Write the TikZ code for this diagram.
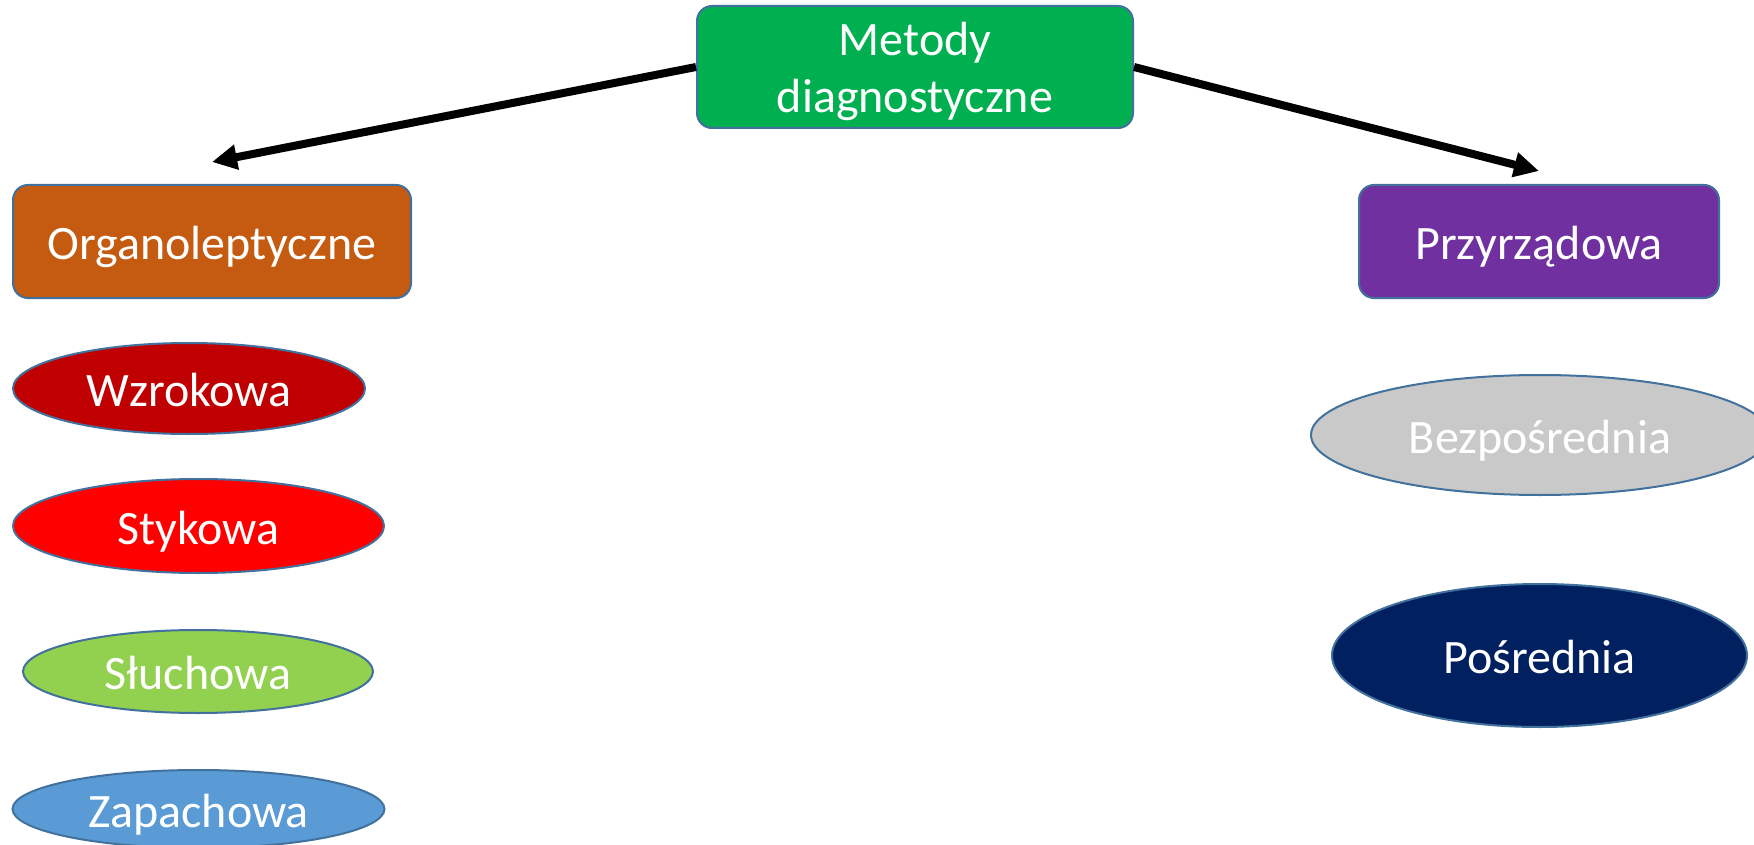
\documentclass[tikz,border=0pt]{standalone}
\usepackage{fontspec}
\setmainfont{Carlito}
\usetikzlibrary{shapes.geometric,arrows.meta}
\definecolor{cgreen}{HTML}{00B050}
\definecolor{corange}{HTML}{C55A11}
\definecolor{cpurple}{HTML}{7030A0}
\definecolor{cdarkred}{HTML}{C00000}
\definecolor{cred}{HTML}{FF0000}
\definecolor{clgreen}{HTML}{92D050}
\definecolor{cblue}{HTML}{5B9BD5}
\definecolor{cgrey}{HTML}{C9C9C9}
\definecolor{cnavy}{HTML}{002060}
\definecolor{cedge}{HTML}{41719C}
\tikzset{
  lbl/.style={text=white, font=\fontsize{48}{57}\selectfont, inner sep=0pt, text height=36pt, text depth=0pt},
  boxnode/.style={lbl, draw=cedge, line width=2pt, rounded corners=15pt},
  ellnode/.style={lbl, ellipse, draw=cedge, line width=2pt},
  arr/.style={line width=8pt, -{Triangle[length=25pt,width=24pt]}}
}
\begin{document}
\begin{tikzpicture}[x=1pt,y=-1pt]
\useasboundingbox (0,0) rectangle (1754,845);
\node[boxnode, fill=cgreen, minimum width=436pt, minimum height=122pt, align=center, text height=92pt, text depth=0pt] (top) at (915,67) {Metody\\diagnostyczne};
\node[boxnode, fill=corange, minimum width=398pt, minimum height=113pt] (org) at (212,241.5) {Organoleptyczne};
\node[boxnode, fill=cpurple, minimum width=360pt, minimum height=113pt] (prz) at (1539,241.5) {Przyrządowa};
\node[ellnode, fill=cdarkred, minimum width=352pt, minimum height=91pt] (wz) at (189,388.5) {Wzrokowa};
\node[ellnode, fill=cred, minimum width=371pt, minimum height=94pt] (st) at (198.5,526) {Stykowa};
\node[ellnode, fill=clgreen, minimum width=350pt, minimum height=83pt] (sl) at (198,671.5) {Słuchowa};
\node[ellnode, fill=cblue, minimum width=372pt, minimum height=78pt] (za) at (198.5,809) {Zapachowa};
\node[ellnode, fill=cgrey, minimum width=458pt, minimum height=120pt] (bez) at (1540,435) {Bezpośrednia};
\node[ellnode, fill=cnavy, minimum width=415pt, minimum height=143pt] (pos) at (1539.5,655.5) {Pośrednia};
\coordinate (lt) at (212,162);
\coordinate (rt) at (1539,171);
\draw[arr] (top.west) -- (lt);
\draw[arr] (top.east) -- (rt);
\end{tikzpicture}
\end{document}
